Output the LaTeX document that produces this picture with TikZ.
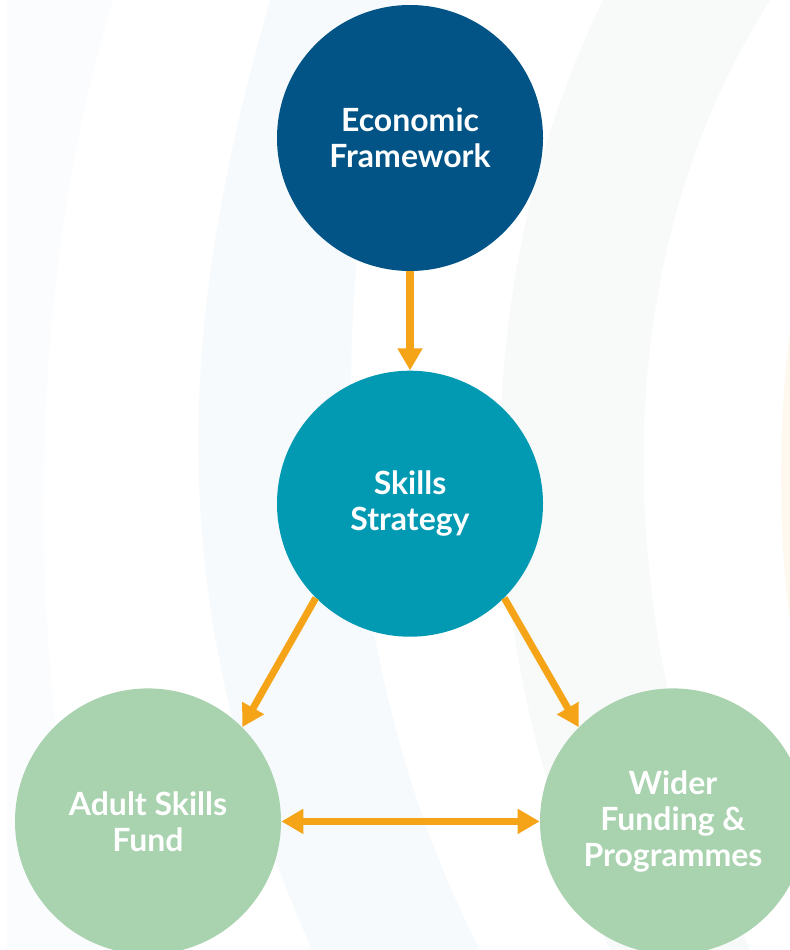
\documentclass[tikz,border=0pt]{standalone}
\usepackage{fontspec}
\setmainfont{Lato}
\usepackage{tikz}
\usetikzlibrary{arrows.meta, positioning}

\definecolor{econblue}{HTML}{025487}
\definecolor{skillteal}{HTML}{029AB3}
\definecolor{fundgreen}{HTML}{A9D2AF}
\definecolor{arroworange}{HTML}{F5A418}
\definecolor{bandgrey}{HTML}{FBFCFE}
\definecolor{bandblue}{HTML}{F6FAFC}
\definecolor{bandgreen}{HTML}{F7FAF8}
\definecolor{bandorange}{HTML}{FEF8EE}

\begin{document}
\begin{tikzpicture}[>={Triangle[width=13.5pt,length=12.5pt]},node distance=1.98cm,
		hub/.style={circle,minimum size=5.32cm,inner sep=0pt,text=white,align=center,
			font=\fontsize{18.2}{20.6}\selectfont\bfseries},
		flow/.style={color=arroworange,line width=4pt}]
		\clip (0,0) rectangle (15.8,-19);
		\fill[white] (0,0) rectangle (15.8,-19);

		% faint arcs behind
		\begin{scope}[x=0.02cm,y=-0.02cm]
			\fill[bandgrey] (7,0) -- (7,950) -- (100,950) .. controls (25,700) and (20,300) .. (113,0) -- cycle;
			\fill[bandblue] (270,0) .. controls (185,300) and (150,580) .. (312,950) -- (480,950) .. controls (340,680) and (310,300) .. (410,0) -- cycle;
			\fill[bandgreen] (603,0) .. controls (480,250) and (450,600) .. (610,950) -- (750,950) .. controls (600,600) and (610,250) .. (770,0) -- cycle;
			\fill[bandorange] (790,330) .. controls (778,420) and (778,540) .. (790,620) -- cycle;
		\end{scope}

		\node[hub,fill=econblue]  (ef)                                  at (8.2,-2.76) {Economic\\Framework};
		\node[hub,fill=skillteal] (ss)  [below=of ef]                               {Skills\\Strategy};
		\node[hub,fill=fundgreen] (asf) [below=1.02cm of ss,xshift=-5.24cm]         {Adult Skills\\Fund};
		\node[hub,fill=fundgreen] (wf)  [below=1.02cm of ss,xshift=5.26cm]          {Wider\\Funding \&\\Programmes};

		\draw[->,flow]  (ef)     -- (ss);
		\draw[->,flow]  (ss.225) -- (asf.45);
		\draw[->,flow]  (ss.-45) -- (wf.135);
		\draw[<->,flow] (asf)    -- (wf);
	\end{tikzpicture}
\end{document}
